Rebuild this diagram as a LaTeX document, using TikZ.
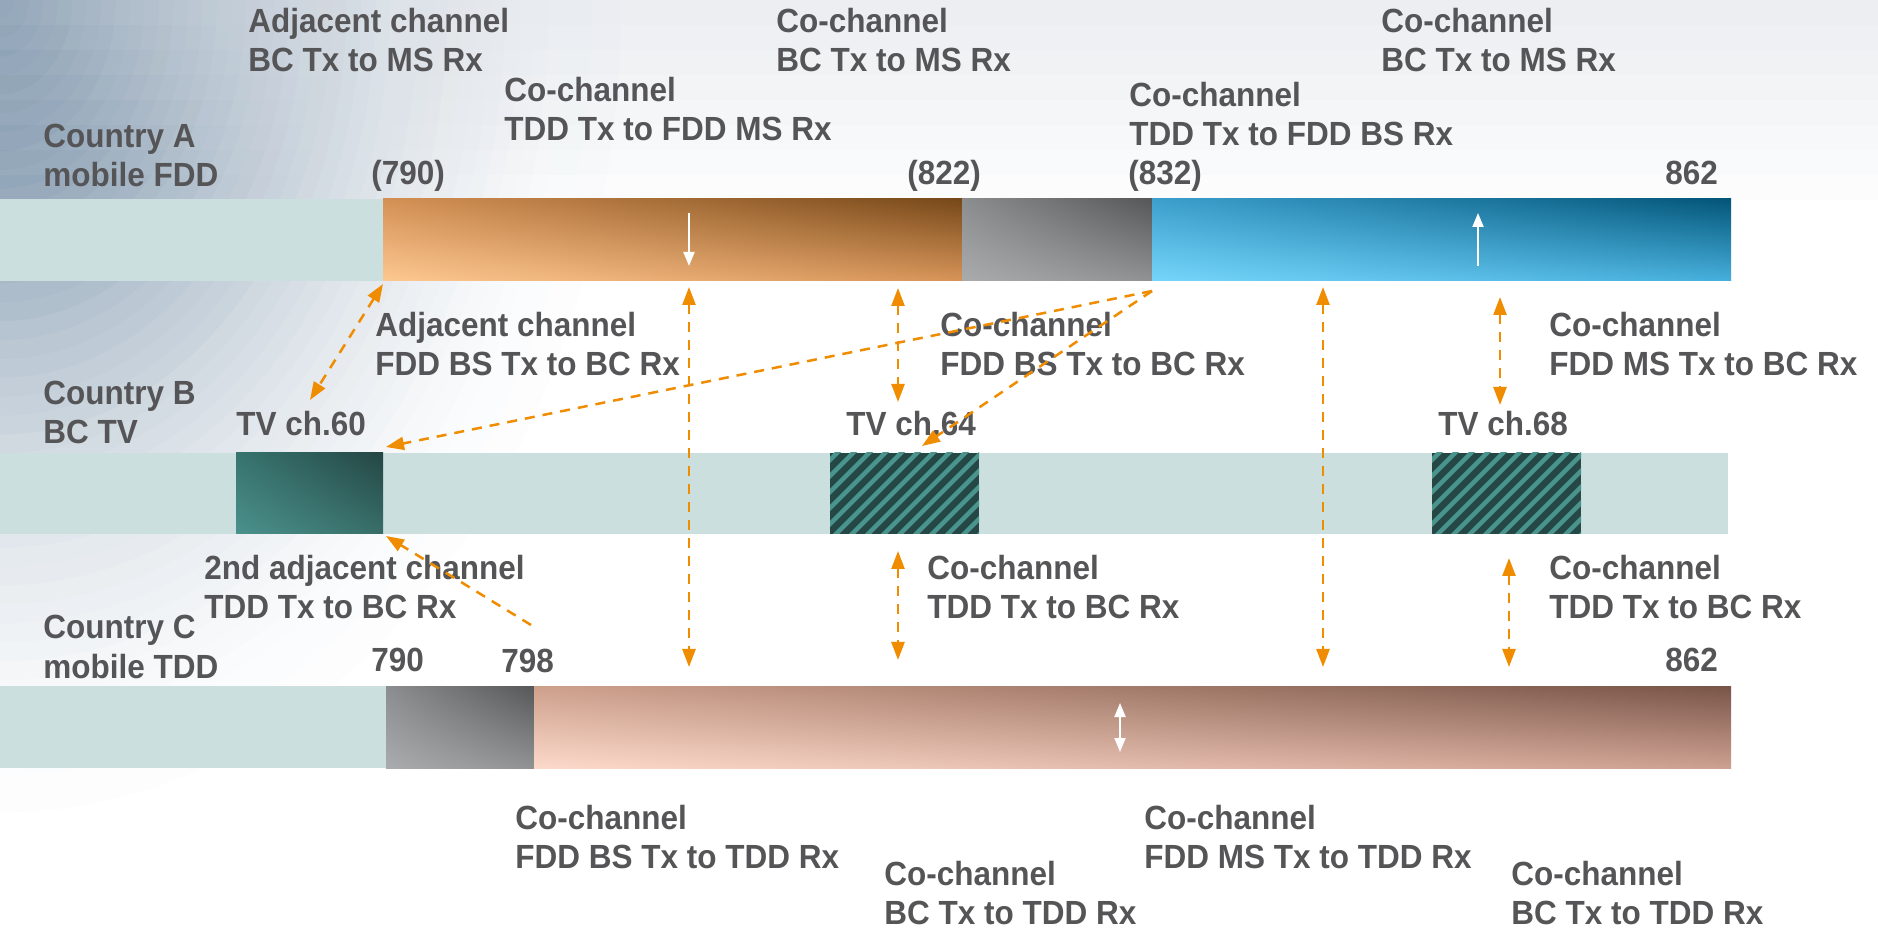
\documentclass[tikz,border=0pt]{standalone}
\usepackage{fontspec}
\setmainfont{Liberation Sans}[FakeStretch=0.94]
\usetikzlibrary{arrows.meta,shadings}
\definecolor{bgA}{RGB}{80,112,142}
\definecolor{stripgray}{RGB}{222,227,234}
\definecolor{tealL}{RGB}{203,223,222}
\definecolor{txtgray}{RGB}{85,85,87}
\definecolor{arr}{RGB}{240,140,0}
\definecolor{hatchD}{RGB}{37,72,70}
\definecolor{hatchL}{RGB}{74,148,142}
\definecolor{orLL}{RGB}{253,200,145}\definecolor{orUL}{RGB}{212,145,85}
\definecolor{orUR}{RGB}{118,72,25}\definecolor{orLR}{RGB}{215,148,88}
\definecolor{grLL}{RGB}{170,171,173}\definecolor{grUL}{RGB}{140,141,143}
\definecolor{grUR}{RGB}{85,87,88}\definecolor{grLR}{RGB}{145,146,148}
\definecolor{blLL}{RGB}{118,213,250}\definecolor{blUL}{RGB}{60,160,205}
\definecolor{blUR}{RGB}{3,85,120}\definecolor{blLR}{RGB}{70,175,220}
\definecolor{tvLL}{RGB}{75,145,140}\definecolor{tvUL}{RGB}{56,116,111}
\definecolor{tvUR}{RGB}{36,70,68}\definecolor{tvLR}{RGB}{56,110,105}
\definecolor{pkLL}{RGB}{252,217,202}\definecolor{pkUL}{RGB}{205,160,140}
\definecolor{pkUR}{RGB}{120,85,72}\definecolor{pkLR}{RGB}{205,160,145}
\tikzset{
  lbl/.style={anchor=base west, inner sep=0pt, text=txtgray, font=\fontsize{16.75}{19.5}\selectfont\bfseries},
  ia/.style={draw=arr, line width=1.25pt, dash pattern=on 5pt off 4pt, -{Triangle[length=9pt,width=6.5pt]}},
  iab/.style={ia, {Triangle[length=9pt,width=6.5pt]}-{Triangle[length=9pt,width=6.5pt]}},
  wa/.style={draw=white, line width=1pt, -{Triangle[length=7pt,width=5.5pt]}},
  wab/.style={wa, {Triangle[length=7pt,width=5.5pt]}-{Triangle[length=7pt,width=5.5pt]}},
  or/.style={lower left=orLL, upper left=orUL, upper right=orUR, lower right=orLR},
  gr/.style={lower left=grLL, upper left=grUL, upper right=grUR, lower right=grLR},
  bl/.style={lower left=blLL, upper left=blUL, upper right=blUR, lower right=blLR},
  tv/.style={lower left=tvLL, upper left=tvUL, upper right=tvUR, lower right=tvLR},
  pk/.style={lower left=pkLL, upper left=pkUL, upper right=pkUR, lower right=pkLR}
}
\newcommand\twolab[5]{%
  \node[lbl] (#1) at (#2,#3) {#4};
  \node[lbl] (#1-2) at ([yshift=-19.5pt]#2,#3) {#5};}
\newcommand\hatchblock[2]{%
  \begin{scope}
    \clip (#1,453) rectangle (#2,534);
    \fill[hatchD] (#1,453) rectangle (#2,534);
    \foreach \i in {-7,...,11} {
      \draw[hatchL, line width=2.2pt] (#1+\i*16,540) -- (#1+\i*16+93,447);
    }
  \end{scope}}
\begin{document}
\begin{tikzpicture}[x=0.5pt,y=-0.5pt]
\useasboundingbox (0,0) rectangle (1878,929);
% background
\fill[white] (0,0) rectangle (1878,929);
\begin{scope}
  \clip (0,0) rectangle (1878,929);
  \foreach \k in {0,...,44} {
    \pgfmathsetmacro\r{1-\k/45}
    \pgfmathtruncatemacro\p{round(100*(\k/45)^1.7)}
    \fill[bgA!\p!white] (0,0) ellipse ({650*\r} and {850*\r});
  }
  \foreach \j in {1,...,8} {
    \fill[stripgray, fill opacity=0.08] (0,0) rectangle (1878,25*\j);
  }
\end{scope}
% bar A
\fill[tealL] (0,199) rectangle (383,281);
\shade[or] (383,199) rectangle (962,281);
\shade[gr] (962,199) rectangle (1152,281);
\shade[bl] (1152,199) rectangle (1731,281);
% bar B
\fill[tealL] (0,453) rectangle (1728,534);
\shade[tv] (236,453) rectangle (383,534);
\hatchblock{830}{979}
\hatchblock{1432}{1581}
% bar C
\fill[tealL] (0,686) rectangle (386,768);
\shade[gr] (386,686) rectangle (534,768);
\shade[pk] (534,686) rectangle (1731,768);
% white arrows
\coordinate (w1a) at (689,213); \coordinate (w1b) at (689,266);
\coordinate (w2a) at (1478,266); \coordinate (w2b) at (1478,213);
\coordinate (w3a) at (1120,703); \coordinate (w3b) at (1120,752);
\draw[wa] (w1a) -- (w1b);
\draw[wa] (w2a) -- (w2b);
\draw[wab] (w3a) -- (w3b);
% labels
\twolab{l1}{248}{33}{Adjacent channel}{BC Tx to MS Rx}
\twolab{l2}{504}{102}{Co-channel}{TDD Tx to FDD MS Rx}
\twolab{l3}{776}{33}{Co-channel}{BC Tx to MS Rx}
\twolab{l4}{1129}{107}{Co-channel}{TDD Tx to FDD BS Rx}
\twolab{l5}{1381}{33}{Co-channel}{BC Tx to MS Rx}
\twolab{ca}{43}{148}{Country A}{mobile FDD}
\node[lbl] (n790a) at (371,185) {(790)};
\node[lbl] (n822) at (907,185) {(822)};
\node[lbl] (n832) at (1128,185) {(832)};
\node[lbl] (n862a) at (1665,185) {862};
\twolab{l6}{375}{337}{Adjacent channel}{FDD BS Tx to BC Rx}
\twolab{l7}{940}{337}{Co-channel}{FDD BS Tx to BC Rx}
\twolab{l8}{1549}{337}{Co-channel}{FDD MS Tx to BC Rx}
\twolab{cb}{43}{405}{Country B}{BC TV}
\node[lbl] (tv60) at (236,436) {TV ch.60};
\node[lbl] (tv64) at (846,436) {TV ch.64};
\node[lbl] (tv68) at (1438,436) {TV ch.68};
\twolab{l9}{204}{580}{2nd adjacent channel}{TDD Tx to BC Rx}
\twolab{l10}{927}{580}{Co-channel}{TDD Tx to BC Rx}
\twolab{l11}{1549}{580}{Co-channel}{TDD Tx to BC Rx}
\twolab{cc}{43}{639}{Country C}{mobile TDD}
\node[lbl] (n790c) at (371,671) {790};
\node[lbl] (n798) at (501,673) {798};
\node[lbl] (n862c) at (1665,672) {862};
\twolab{l12}{515}{829}{Co-channel}{FDD BS Tx to TDD Rx}
\twolab{l13}{884}{885}{Co-channel}{BC Tx to TDD Rx}
\twolab{l14}{1144}{829}{Co-channel}{FDD MS Tx to TDD Rx}
\twolab{l15}{1511}{885}{Co-channel}{BC Tx to TDD Rx}
% interference arrows
\coordinate (a1a) at (383,284); \coordinate (a1b) at (310,400);
\coordinate (blc) at (1152,291);
\coordinate (ch60t) at (386,447);
\coordinate (ch64t) at (922,446);
\coordinate (a4a) at (898,288); \coordinate (a4b) at (898,402);
\coordinate (a5a) at (1500,297); \coordinate (a5b) at (1500,405);
\coordinate (a6a) at (689,287); \coordinate (a6b) at (689,667);
\coordinate (a7a) at (1323,287); \coordinate (a7b) at (1323,667);
\coordinate (a8a) at (531,625); \coordinate (ch60b) at (386,536);
\coordinate (a9a) at (898,551); \coordinate (a9b) at (898,660);
\coordinate (a10a) at (1509,558); \coordinate (a10b) at (1509,667);
\draw[iab] (a1a) -- (a1b);
\draw[ia] (blc) -- (ch60t);
\draw[ia] (blc) -- (ch64t);
\draw[iab] (a4a) -- (a4b);
\draw[iab] (a5a) -- (a5b);
\draw[iab] (a6a) -- (a6b);
\draw[iab] (a7a) -- (a7b);
\draw[ia] (a8a) -- (ch60b);
\draw[iab] (a9a) -- (a9b);
\draw[iab] (a10a) -- (a10b);
\end{tikzpicture}
\end{document}
